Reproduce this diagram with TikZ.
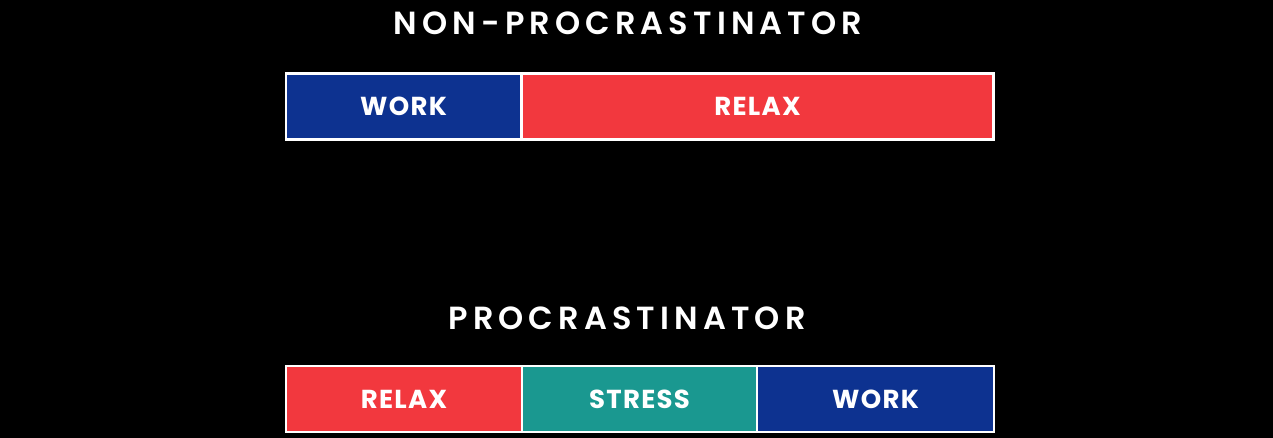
\documentclass[tikz,border=0pt]{standalone}
\usepackage{fontspec}
\setmainfont{Poppins}
\newfontfamily\titlefont[LetterSpace=16]{Poppins SemiBold}
\newfontfamily\labelfont[LetterSpace=5]{Poppins Bold}
\definecolor{wblue}{HTML}{0D3290}
\definecolor{rred}{HTML}{F2383E}
\definecolor{steal}{HTML}{1A9890}
\tikzset{
  seg/.style={draw=white, line width=2.6pt, minimum height=66pt, inner sep=0pt, font=\labelfont\fontsize{26}{26}\selectfont, text=white},
  ttl/.style={font=\titlefont\fontsize{32}{32}\selectfont, text=white, inner sep=0pt}
}
\begin{document}
\begin{tikzpicture}[x=1pt,y=-1pt]
\fill[black] (0,0) rectangle (1273,438);
\useasboundingbox (0,0) rectangle (1273,438);
\node[ttl] (t1) at (628,23) {NON-PROCRASTINATOR};
\node[seg, fill=wblue, minimum width=235pt] (w1) at (403.5,106.5) {WORK};
\node[seg, fill=rred, minimum width=472pt] (r1) at (757.5,106.5) {RELAX};
\node[ttl] (t2) at (627,318) {PROCRASTINATOR};
\node[seg, fill=rred, minimum width=236pt] (r2) at (404,399) {RELAX};
\node[seg, fill=steal, minimum width=235pt] (s2) at (639.5,399) {STRESS};
\node[seg, fill=wblue, minimum width=237pt] (w2) at (875.5,399) {WORK};
\end{tikzpicture}
\end{document}
